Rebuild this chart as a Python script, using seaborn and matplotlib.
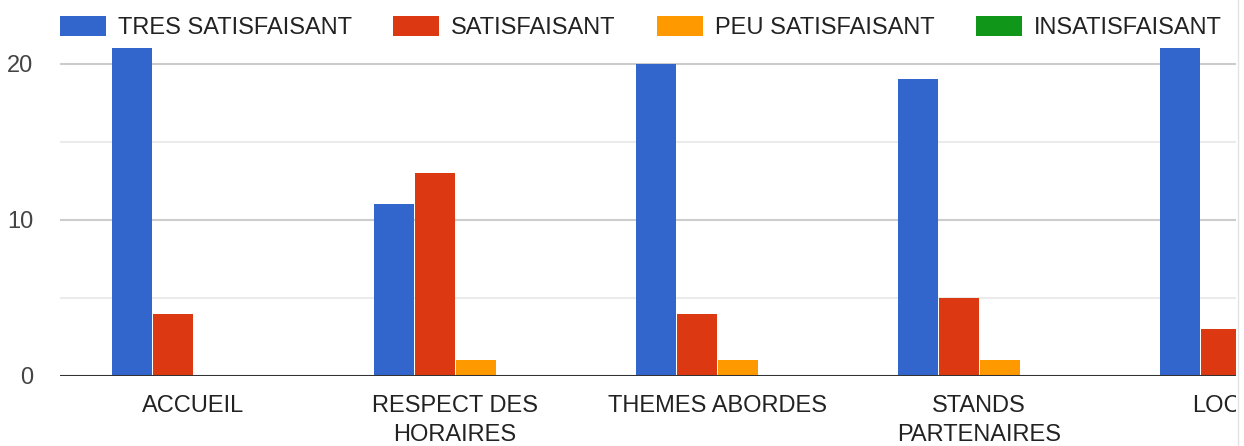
import pandas as pd
import matplotlib.pyplot as plt
import seaborn as sns
from matplotlib.patches import Rectangle, Patch

# Data
categories = ["ACCUEIL", "RESPECT DES\nHORAIRES", "THEMES ABORDES", "STANDS\nPARTENAIRES", "LOCAUX"]
series = ["TRES SATISFAISANT", "SATISFAISANT", "PEU SATISFAISANT", "INSATISFAISANT"]
tres_satisfaisant = [21, 11, 20, 19, 21]
satisfaisant = [4, 13, 4, 5, 3]
peu_satisfaisant = [0, 1, 1, 1, 1]
insatisfaisant = [0, 0, 0, 0, 0]
colors = ["#3366cc", "#dc3912", "#ff9900", "#109618"]

rows = []
for name, vals in zip(series, [tres_satisfaisant, satisfaisant, peu_satisfaisant, insatisfaisant]):
    for cat, v in zip(categories, vals):
        rows.append({"Categorie": cat, "Reponse": name, "Nombre": v})
df = pd.DataFrame(rows)

sns.set_style("white")
plt.rcParams['font.family'] = ['Liberation Sans', 'DejaVu Sans']

W, H = 1244, 446
fig = plt.figure(figsize=(W / 100, H / 100), dpi=100)

# axes: left edge at 60px, baseline at y=376px, top at y=44px; runs past the right edge (cropped)
px_unit = 262.0
x_left = -0.508
ax_right_px = 1300
ax = fig.add_axes([60 / W, (H - 376) / H, (ax_right_px - 60) / W, (376 - 44) / H])

sns.barplot(data=df, x="Categorie", y="Nombre", hue="Reponse", palette=colors,
            width=0.625, gap=0.025, linewidth=0, ax=ax, legend=False, saturation=1)

ax.set_xlim(x_left, x_left + (ax_right_px - 60) / px_unit)
ax.set_ylim(0, (376 - 44) / 15.62)
ax.set_xlabel("")
ax.set_ylabel("")

ax.set_yticks([0, 10, 20])
ax.set_yticks([5, 15], minor=True)
ax.grid(axis="y", which="major", color="#cccccc", lw=1.5, zorder=0)
ax.grid(axis="y", which="minor", color="#ebebeb", lw=1.5, zorder=0)
ax.grid(axis="x", visible=False)
ax.set_axisbelow(True)
ax.axhline(0, color="#333333", lw=2.2, zorder=5)
for s in ax.spines.values():
    s.set_visible(False)
ax.tick_params(axis="y", length=0, pad=19, labelsize=17, labelcolor="#444444")
ax.tick_params(axis="x", length=0, pad=13.5, labelsize=17, labelcolor="#222222")
for lbl in ax.get_xticklabels():
    lbl.set_linespacing(1.4)

# legend
handles = [Patch(facecolor=c, edgecolor="none") for c in colors]
fig.legend(handles, series, loc="upper left", bbox_to_anchor=(60 / W, 1 - 16 / H),
           ncol=4, frameon=False, fontsize=17, handlelength=1.95, handleheight=0.95,
           handletextpad=0.5, columnspacing=1.75, borderaxespad=0, borderpad=0,
           labelcolor="#222222")

# crop of the right edge
fig.patches.append(Rectangle((1236 / W, 0), 1, 1, transform=fig.transFigure,
                             facecolor="white", edgecolor="none", zorder=100))
fig.lines.append(plt.Line2D([1237.5 / W, 1237.5 / W], [0, 1], transform=fig.transFigure,
                            color="#e3e3e3", lw=1, zorder=101))

fig.savefig("out.png", dpi=100)
